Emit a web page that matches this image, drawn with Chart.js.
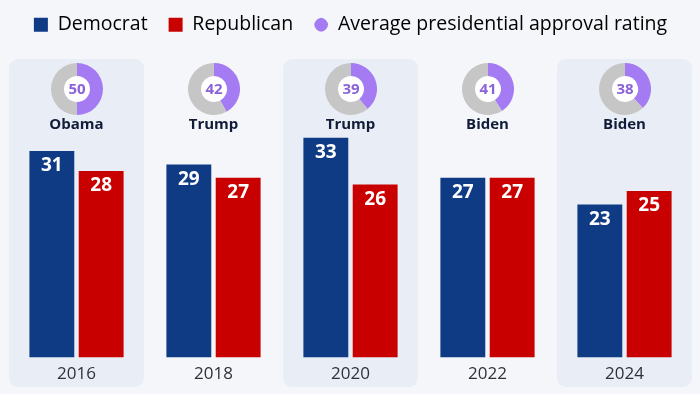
<!DOCTYPE html>
<html>
<head>
<meta charset="utf-8">
<script src="https://cdn.jsdelivr.net/npm/chart.js@4.4.1/dist/chart.umd.min.js"></script>
<style>
  html, body { margin: 0; padding: 0; background: #f4f6fa; }
  #wrap { position: relative; width: 700px; height: 394px; }
  #main { position: absolute; left: 0; top: 0; }
  .ring { position: absolute; }
</style>
</head>
<body>
<div id="wrap"><canvas id="main" width="700" height="394"></canvas></div>
<script>
// data
var years = ['2016', '2018', '2020', '2022', '2024'];
var democrat = [31, 29, 33, 27, 23];
var republican = [28, 27, 26, 27, 25];
var approval = [50, 42, 39, 41, 38];
var presidents = ['Obama', 'Trump', 'Trump', 'Biden', 'Biden'];

var demColor = '#0f3b84';
var repColor = '#c80000';
var purple = '#a47bf3';
var FONT = "'Open Sans', sans-serif";

// shaded panels behind every other year (drawn before the axis labels)
var panelPlugin = {
    id: 'panels',
    beforeDraw: function (chart) {
        var ctx = chart.ctx, xs = chart.scales.x;
        var w = xs.getPixelForValue(1) - xs.getPixelForValue(0) - 2;
        ctx.save();
        ctx.fillStyle = '#e9eef6';
        for (var i = 0; i < years.length; i += 2) {
            var cx = xs.getPixelForValue(i);
            ctx.beginPath();
            ctx.roundRect(cx - w / 2, 59, w, 328, 9);
            ctx.fill();
        }
        ctx.restore();
    },
    afterDraw: function (chart) {
        var ctx = chart.ctx, xs = chart.scales.x;
        ctx.save();
        ctx.fillStyle = '#101c38';
        ctx.font = 'bold 15px ' + FONT;
        ctx.textAlign = 'center';
        ctx.textBaseline = 'middle';
        for (var i = 0; i < years.length; i++) {
            ctx.fillText(presidents[i], xs.getPixelForValue(i), 125);
        }
        ctx.restore();
    }
};

// white value labels inside bar tops
var valuePlugin = {
    id: 'values',
    afterDatasetsDraw: function (chart) {
        var ctx = chart.ctx;
        ctx.save();
        ctx.fillStyle = '#ffffff';
        ctx.font = 'bold 19px ' + FONT;
        ctx.textAlign = 'center';
        ctx.textBaseline = 'middle';
        chart.data.datasets.forEach(function (ds, di) {
            chart.getDatasetMeta(di).data.forEach(function (bar, i) {
                ctx.fillText(ds.data[i], bar.x, bar.y + 15);
            });
        });
        ctx.restore();
    }
};

var mainChart = new Chart(document.getElementById('main'), {
    type: 'bar',
    data: {
        labels: years,
        datasets: [
            {label: 'Democrat', data: democrat, backgroundColor: demColor},
            {label: 'Republican', data: republican, backgroundColor: repColor}
        ]
    },
    options: {
        responsive: false,
        animation: false,
        events: [],
        layout: {padding: {left: 8, right: 7, top: -6, bottom: 4}},
        categoryPercentage: 0.72,
        barPercentage: 0.91,
        scales: {
            x: {
                grid: {display: false, drawTicks: false},
                border: {display: false},
                ticks: {padding: 6, autoSkip: false, maxRotation: 0, color: '#2e3138', font: {family: FONT, size: 17}}
            },
            y: {display: false, min: 0, max: 47}
        },
        plugins: {
            tooltip: {enabled: false},
            legend: {
                position: 'top',
                labels: {
                    color: '#2e3138',
                    font: {family: FONT, size: 19.5},
                    boxWidth: 14,
                    boxHeight: 14,
                    padding: 21,
                    useBorderRadius: true,
                    generateLabels: function (chart) {
                        var items = chart.data.datasets.map(function (ds, i) {
                            return {text: ds.label, fillStyle: ds.backgroundColor, strokeStyle: ds.backgroundColor,
                                lineWidth: 0, borderRadius: 0, datasetIndex: i, hidden: false};
                        });
                        items.push({text: 'Average presidential approval rating', fillStyle: purple, strokeStyle: purple,
                            lineWidth: 0, borderRadius: 8, hidden: false});
                        return items;
                    }
                }
            }
        }
    },
    plugins: [panelPlugin, valuePlugin]
});

// approval doughnuts, one small chart per year
var ringLabel = {
    id: 'ringLabel',
    beforeDatasetsDraw: function (chart) {
        var arc = chart.getDatasetMeta(0).data[0];
        var ctx = chart.ctx;
        ctx.save();
        ctx.fillStyle = '#ffffff';
        ctx.beginPath();
        ctx.arc(arc.x, arc.y, arc.innerRadius, 0, Math.PI * 2);
        ctx.fill();
        ctx.restore();
    },
    afterDatasetsDraw: function (chart) {
        var arc = chart.getDatasetMeta(0).data[0];
        var ctx = chart.ctx;
        ctx.save();
        ctx.fillStyle = '#8b63d8';
        ctx.font = 'bold 15px ' + FONT;
        ctx.textAlign = 'center';
        ctx.textBaseline = 'middle';
        ctx.fillText(chart.data.datasets[0].data[0], arc.x, arc.y + 1);
        ctx.restore();
    }
};

var ringSize = 52;
for (var i = 0; i < years.length; i++) {
    var c = document.createElement('canvas');
    c.className = 'ring';
    c.width = ringSize;
    c.height = ringSize;
    c.style.left = (mainChart.scales.x.getPixelForValue(i) - ringSize / 2) + 'px';
    c.style.top = (89 - ringSize / 2) + 'px';
    document.getElementById('wrap').appendChild(c);
    new Chart(c, {
        type: 'doughnut',
        data: {
            labels: ['approve', 'rest'],
            datasets: [{data: [approval[i], 100 - approval[i]], backgroundColor: [purple, '#c6c6c6'], borderWidth: 0}]
        },
        options: {
            responsive: false,
            animation: false,
            events: [],
            cutout: '50%',
            plugins: {legend: {display: false}, tooltip: {enabled: false}}
        },
        plugins: [ringLabel]
    });
}
</script>
</body>
</html>
